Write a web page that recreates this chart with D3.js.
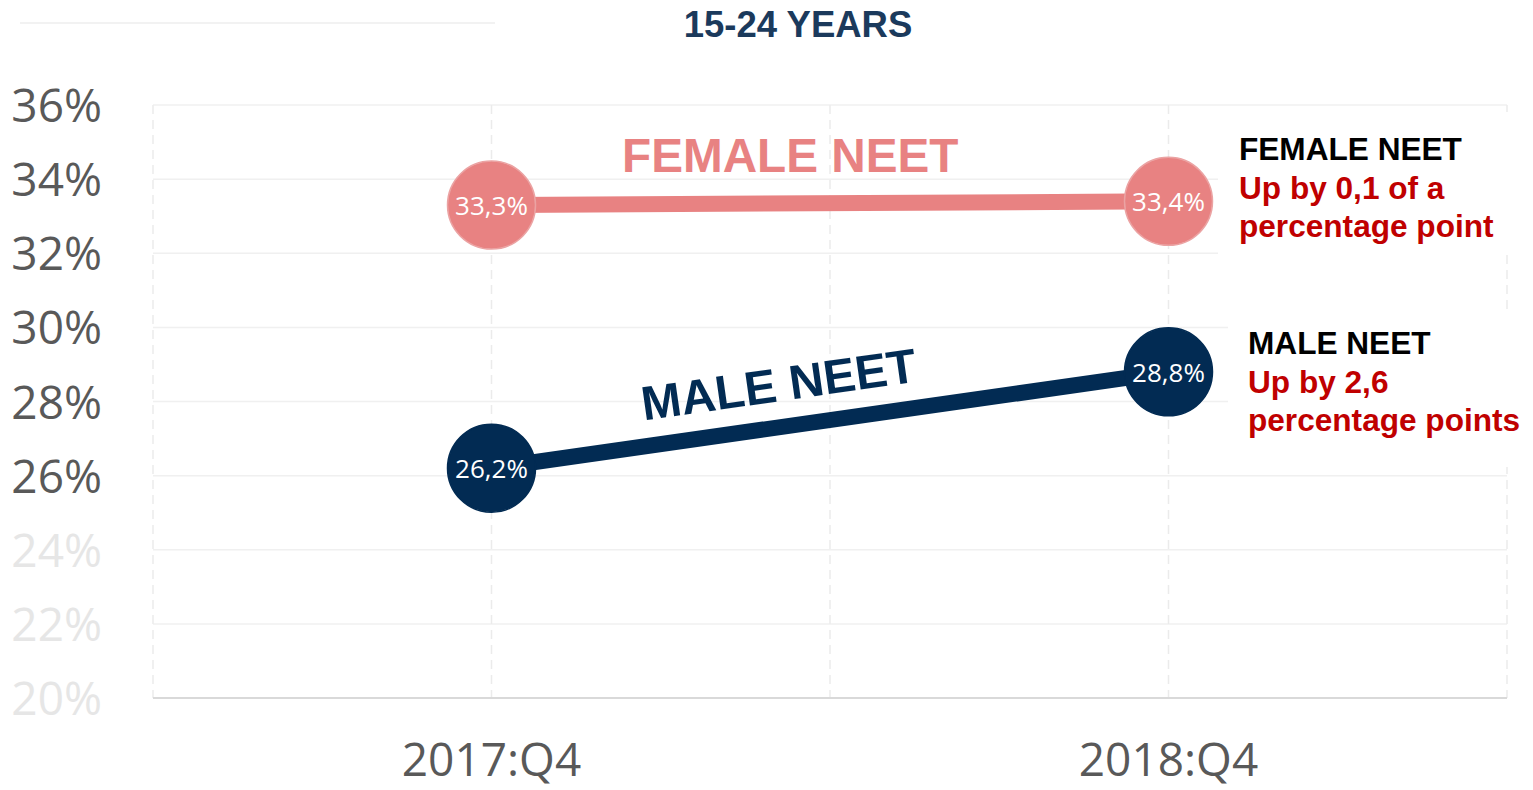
<!DOCTYPE html>
<html lang="en">
<head>
  <meta charset="UTF-8">
  <title>NEET 15-24 years</title>
  <script src="https://d3js.org/d3.v7.min.js"></script>
  <style>
    html, body {
      margin: 0;
      padding: 0;
      background: #fff;
      overflow: hidden;
    }
    svg {
      display: block;
    }
  </style>
</head>
<body>
<svg id="chart" width="1533" height="790"></svg>

<script>
  const quarters = ["2017:Q4", "2018:Q4"];
  const femaleNeet = [33.3, 33.4];
  const maleNeet = [26.2, 28.8];
  const yTicks = [20, 22, 24, 26, 28, 30, 32, 34, 36];

  const pink = "#e88282";
  const navy = "#022b53";
  const red = "#c00000";

  const svg = d3.select("#chart");

  const x = d3.scalePoint()
          .domain(quarters)
          .range([153, 1507])
          .padding(0.5);

  const y = d3.scaleLinear()
          .domain([20, 36])
          .range([698, 105]);

  // faint line top-left
  svg.append("line")
          .attr("x1", 20).attr("x2", 495)
          .attr("y1", 23).attr("y2", 23)
          .attr("stroke", "#f2f2f2")
          .attr("stroke-width", 2);

  // title
  svg.append("text")
          .attr("x", 798)
          .attr("y", 37)
          .attr("text-anchor", "middle")
          .attr("font-family", "'Liberation Sans', Arial, sans-serif")
          .attr("font-weight", "bold")
          .attr("font-size", 36.5)
          .attr("fill", "#1b3a5c")
          .text("15-24 YEARS");

  // horizontal gridlines
  svg.append("g")
          .selectAll("line")
          .data(yTicks.filter(d => d > 20))
          .join("line")
          .attr("x1", 153).attr("x2", 1507)
          .attr("y1", d => y(d)).attr("y2", d => y(d))
          .attr("stroke", "#f0f0f0")
          .attr("stroke-width", 1.5);

  // vertical dashed gridlines at half steps
  const half = x.step() / 2;
  const vLines = d3.range(0, quarters.length * 2 + 1).map(i => 153 + i * half);
  svg.append("g")
          .selectAll("line")
          .data(vLines)
          .join("line")
          .attr("x1", d => d).attr("x2", d => d)
          .attr("y1", y(36)).attr("y2", y(20))
          .attr("stroke", "#ebebeb")
          .attr("stroke-width", 1.5)
          .attr("stroke-dasharray", "9,6");

  // x axis line
  svg.append("line")
          .attr("x1", 153).attr("x2", 1507)
          .attr("y1", y(20)).attr("y2", y(20))
          .attr("stroke", "#d9d9d9")
          .attr("stroke-width", 2);

  // y tick labels
  svg.append("g")
          .selectAll("text")
          .data(yTicks)
          .join("text")
          .attr("x", 102)
          .attr("y", d => y(d) + 17)
          .attr("text-anchor", "end")
          .attr("font-family", "'Open Sans', sans-serif")
          .attr("font-size", 46)
          .attr("fill", d => d >= 26 ? "#595959" : "#e6e6e6")
          .text(d => d + "%");

  // x tick labels
  svg.append("g")
          .selectAll("text")
          .data(quarters)
          .join("text")
          .attr("x", d => x(d))
          .attr("y", 776)
          .attr("text-anchor", "middle")
          .attr("font-family", "'Open Sans', sans-serif")
          .attr("font-size", 46)
          .attr("fill", "#595959")
          .text(d => d);

  // white boxes behind right annotations
  svg.append("rect")
          .attr("x", 1218).attr("y", 112)
          .attr("width", 315).attr("height", 142)
          .attr("fill", "#fff");
  svg.append("rect")
          .attr("x", 1228).attr("y", 313)
          .attr("width", 305).attr("height", 154)
          .attr("fill", "#fff");

  const line = d3.line()
          .x((d, i) => x(quarters[i]))
          .y(d => y(d));

  const series = [
    {name: "female", values: femaleNeet, color: pink, stroke: "#eba3a3"},
    {name: "male", values: maleNeet, color: navy, stroke: navy}
  ];

  series.forEach(s => {
    svg.append("path")
            .datum(s.values)
            .attr("d", line)
            .attr("fill", "none")
            .attr("stroke", s.color)
            .attr("stroke-width", 16);

    const pts = svg.append("g");
    pts.selectAll("circle")
            .data(s.values)
            .join("circle")
            .attr("cx", (d, i) => x(quarters[i]))
            .attr("cy", d => y(d))
            .attr("r", 44)
            .attr("fill", s.color)
            .attr("stroke", s.stroke)
            .attr("stroke-width", 1.5);

    pts.selectAll("text")
            .data(s.values)
            .join("text")
            .attr("x", (d, i) => x(quarters[i]))
            .attr("y", d => y(d) + 10)
            .attr("text-anchor", "middle")
            .attr("font-family", "'Open Sans', sans-serif")
            .attr("font-size", 26)
            .attr("fill", "#fff")
            .text(d => d.toFixed(1).replace(".", ",") + "%");
  });

  // in-chart series labels
  svg.append("text")
          .attr("x", 622)
          .attr("y", 172)
          .attr("font-family", "'Liberation Sans', Arial, sans-serif")
          .attr("font-weight", "bold")
          .attr("font-size", 47.7)
          .attr("fill", pink)
          .text("FEMALE NEET");

  const slope = Math.atan2(y(maleNeet[1]) - y(maleNeet[0]), x(quarters[1]) - x(quarters[0])) * 180 / Math.PI;
  svg.append("text")
          .attr("transform", `translate(781,401) rotate(${slope})`)
          .attr("text-anchor", "middle")
          .attr("font-family", "'Liberation Sans', Arial, sans-serif")
          .attr("font-weight", "bold")
          .attr("font-size", 48)
          .attr("fill", navy)
          .text("MALE NEET");

  // right annotations
  const notes = [
    {x: 1239, y: 160, lines: ["FEMALE NEET", "Up by 0,1 of a", "percentage point"]},
    {x: 1248, y: 354, lines: ["MALE NEET", "Up by 2,6", "percentage points"]}
  ];
  notes.forEach(n => {
    svg.append("g")
            .selectAll("text")
            .data(n.lines)
            .join("text")
            .attr("x", n.x)
            .attr("y", (d, i) => n.y + i * 38.5)
            .attr("font-family", "'Liberation Sans', Arial, sans-serif")
            .attr("font-weight", "bold")
            .attr("font-size", 31.6)
            .attr("fill", (d, i) => i === 0 ? "#000" : red)
            .text(d => d);
  });
</script>
</body>
</html>
